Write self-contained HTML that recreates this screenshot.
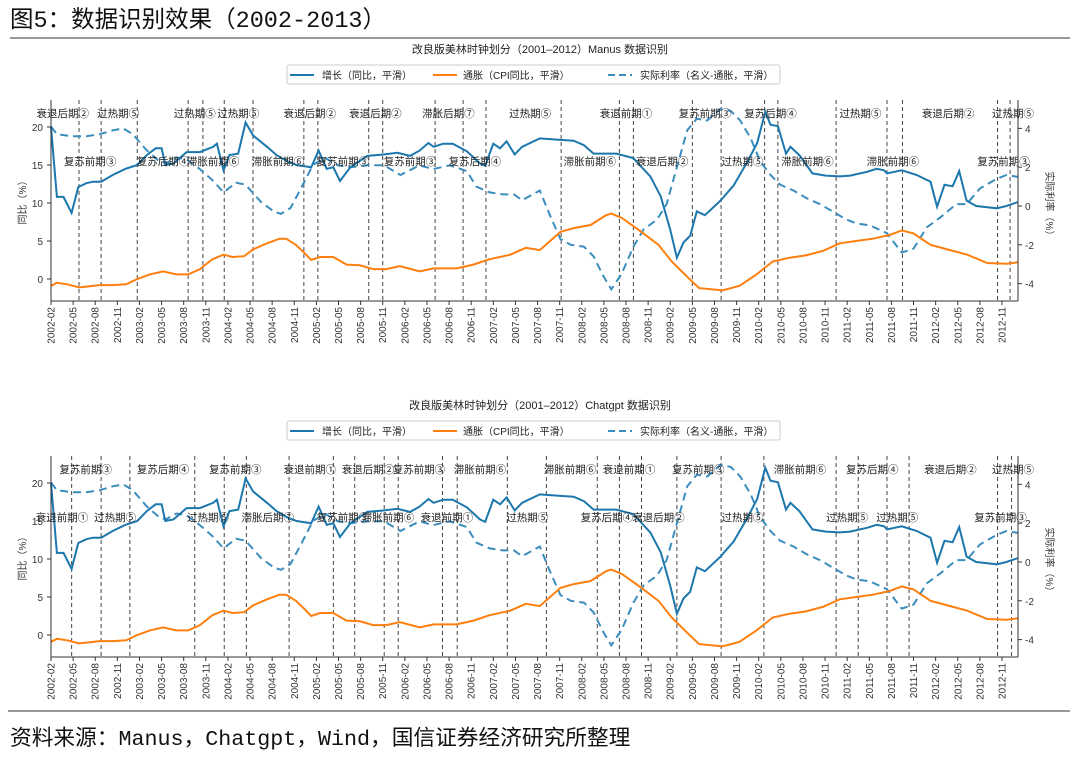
<!DOCTYPE html>
<html><head><meta charset="utf-8"><style>
body{margin:0;background:#fff;}
svg{display:block;font-family:"Liberation Sans","Noto Sans CJK SC",sans-serif;}
</style></head><body>
<svg id="root" width="1080" height="757" viewBox="0 0 1080 757">
<text x="10" y="27" font-size="23.5" fill="#111" font-family="'Liberation Mono','Noto Sans CJK SC',monospace">图5：数据识别效果（2002-2013）</text>
<line x1="10" y1="38" x2="1070" y2="38" stroke="#777" stroke-width="1.5"/>
<line x1="8" y1="711" x2="1070" y2="711" stroke="#777" stroke-width="1.5"/>
<text x="10" y="745" font-size="21.7" fill="#111" font-family="'Liberation Mono','Noto Sans CJK SC',monospace">资料来源：Manus，Chatgpt，Wind，国信证券经济研究所整理</text>
</svg>
<script>
// months indexed from 2002-02 (=0)
const growthM=[0,0.8,1.7,2.8,3.7,4.8,5.7,6.8,8.4,10.1,11.7,13,14.2,15,15.5,16.6,18.4,20.2,22,22.5,23.4,24.2,25.4,26.4,27.4,29.3,30.6,32.2,33.3,35.3,36.3,37.4,38.3,39.2,40.6,42.9,45.2,47,48.7,50,51.2,51.9,53.2,54.5,56.4,58.2,58.9,60,60.9,61.8,62.9,63.9,66.3,69.1,70.9,72.3,73.6,76.7,79,81.3,82.7,84,84.9,85.8,86.7,87.6,88.7,90.8,92.6,94.4,95.8,96.9,97.6,98.6,99.7,100.3,101.5,103.3,105.1,107,108.4,110.7,112,113,113.4,115.4,117.4,119.3,120.2,121.2,122.3,123.2,124.2,125.5,126.4,128.3,129.6,131.1];
const growthV=[20,10.8,10.8,8.7,12.1,12.6,12.8,12.8,13.7,14.5,15,16.3,17.2,17.2,15,15.2,16.7,16.7,17.4,17.8,14.3,16.3,16.5,20.6,18.9,17.4,16.3,15.4,15,14.7,16.9,14.5,14.7,12.9,14.7,16.2,16.4,16.6,16.2,16.9,17.9,17.4,17.8,17.8,16.8,15.2,14.9,17.8,17.2,18.1,16.4,17.4,18.5,18.3,18.2,17.6,16.5,16.5,15.9,13.5,10.9,6.5,2.8,4.8,5.7,8.9,8.4,10.3,12.3,15.3,17.9,22,20.3,20.1,16.5,17.4,16.3,13.9,13.6,13.5,13.6,14.1,14.5,14.3,13.9,14.3,13.7,12.8,9.5,12.4,12.2,14.2,10.3,9.6,9.5,9.3,9.6,10.1];
const cpiM=[0,0.8,2.2,3.8,4.8,6.6,8.4,10.2,11.7,13.4,15.2,17,18.6,20.2,21.9,23.4,24.6,26.2,27.4,29.3,31,31.9,33.2,34.3,35.3,36.5,38.3,40.1,41.9,43.7,45.5,47.3,50,51.9,55,57.3,59.5,62.3,64.4,66.3,69.1,70.9,73.2,75.3,76,77.5,80.1,82.4,84.2,86.5,87.9,91.1,93.4,95.7,97.9,100.2,102.4,104.7,107,109.2,111.5,113.8,115.4,117,119.3,121.6,124.3,127,129.7,131.1];
const cpiV=[-0.9,-0.5,-0.7,-1.1,-1,-0.8,-0.8,-0.7,0,0.6,1,0.6,0.6,1.3,2.6,3.2,2.9,3,3.9,4.7,5.3,5.3,4.5,3.5,2.5,2.9,2.9,1.9,1.8,1.3,1.3,1.7,1,1.4,1.4,1.9,2.6,3.2,4.1,3.8,6.2,6.7,7.1,8.4,8.6,8,6.2,4.5,2.3,0.1,-1.2,-1.5,-0.9,0.6,2.3,2.8,3.1,3.7,4.7,5,5.3,5.8,6.4,6,4.5,3.9,3.2,2.1,2,2.2];
const rateM=[0,0.8,2.8,4.8,6.6,8.4,9.8,11.1,12.9,14.7,15.6,17,18.4,20.2,22,23.4,25.1,26.4,28.5,30.3,31.2,32.5,33.9,35.5,37.1,38.9,40.7,42.9,45.2,47.4,50,51.8,54.1,56.4,57.7,59.5,61.3,62.8,63.9,66.3,67.6,69.1,70.5,72.3,73.6,74.9,76,77.4,79,80.4,82.2,83.5,84.9,86.3,87.6,89,90.8,92.2,93.5,94.9,96.2,97.6,98.9,100.7,102.5,104.3,106.1,107.9,109.3,111.1,113.4,115.4,117,118.8,120.6,122.8,124.2,126,128.3,129.6,131.1];
const rateV=[4.1,3.7,3.6,3.6,3.7,3.9,4,3.7,2.9,2.3,2.2,2.5,2.4,1.9,1.3,0.7,1.2,1.1,0.2,-0.3,-0.4,-0.1,0.9,2.1,2.5,2.1,2,2.1,2.1,1.6,2.1,1.9,2.1,1.8,1,0.7,0.6,0.6,0.3,0.8,-0.4,-1.7,-2,-2.1,-2.6,-3.6,-4.3,-3.5,-2.1,-1.2,-0.7,0.1,2,3.9,4.5,4.4,5,4.9,4.4,3.5,2.3,1.6,1.1,0.8,0.4,0.1,-0.3,-0.7,-0.9,-1,-1.4,-2.4,-2.2,-1.1,-0.6,0.1,0.1,0.9,1.4,1.6,1.5];
const tickLabels=[];for(let m=0;m<=129;m+=3){const y=2002+Math.floor((1+m)/12),mo=((1+m)%12)+1;tickLabels.push({m:m,t:y+'-'+String(mo).padStart(2,'0')});}
const leftTicks=[0,5,10,15,20];
const rightTicks=[-4,-2,0,2,4];
const topLines=[3.8,6.8,11.7,18.6,20.6,23.5,27.4,34.3,36.2,43.1,45,52.1,55.9,59,69.2,77.1,79,87,90.9,96.8,98.6,106.5,113.4,115.5,128.4,130.1];
const topRow1=[[1.6,'衰退后期②'],[9.1,'过热期⑤'],[19.5,'过热期⑤'],[25.4,'过热期⑤'],[35.1,'衰退后期②'],[44,'衰退后期②'],[53.9,'滞胀后期⑦'],[65,'过热期⑤'],[78,'衰退前期①'],[88.7,'复苏前期③'],[97.6,'复苏后期④'],[109.8,'过热期⑤'],[121.7,'衰退后期②'],[130.5,'过热期⑤']];
const topRow2=[[5.3,'复苏前期③'],[15.2,'复苏后期④'],[22,'滞胀前期⑥'],[30.8,'滞胀前期⑥'],[39.6,'复苏前期③'],[48.7,'复苏前期③'],[57.5,'复苏后期④'],[73.1,'滞胀前期⑥'],[82.9,'衰退后期②'],[93.8,'过热期⑤'],[102.6,'滞胀前期⑥'],[114.2,'滞胀前期⑥'],[129.2,'复苏前期③']];
const botLines=[2.8,6.8,10.7,19.5,23.5,26.5,32.3,38.3,41.2,45.2,47.1,53.1,55.1,61.9,67.2,74.1,77.1,80.1,84.9,90.9,96.7,106.5,109.5,113.4,116.4,128.4,130.3];
const botRow1=[[4.7,'复苏前期③'],[15.2,'复苏后期④'],[25,'复苏前期③'],[35.1,'衰退前期①'],[43,'衰退后期②'],[49.9,'复苏前期③'],[58.2,'滞胀前期⑥'],[70.4,'滞胀前期⑥'],[78.4,'衰退前期①'],[87.8,'复苏前期③'],[101.6,'滞胀前期⑥'],[111.4,'复苏后期④'],[122,'衰退后期②'],[130.5,'过热期⑤']];
const botRow2=[[1.5,'衰退前期①'],[8.7,'过热期⑤'],[21.3,'过热期⑤'],[29.4,'滞胀后期⑦'],[39.6,'复苏前期③'],[45.7,'滞胀前期⑥'],[53.7,'衰退前期①'],[64.6,'过热期⑤'],[75.4,'复苏后期④'],[82.4,'衰退后期②'],[93.8,'过热期⑤'],[108,'过热期⑤'],[114.8,'过热期⑤'],[128.8,'复苏前期③']];

const NS='http://www.w3.org/2000/svg';
const root=document.getElementById('root');
function el(tag,attrs,parent,text){const e=document.createElementNS(NS,tag);for(const k in attrs)e.setAttribute(k,attrs[k]);if(text!==undefined)e.textContent=text;(parent||root).appendChild(e);return e;}
const BLUE='#1b77ad',ORANGE='#ff7f0e',DASH='#3b8dbd';

function drawChart(off,title,vlines,row1,row2,name){
  const g=el('g',{},root);
  
  
  const X=m=>51+7.372*m;
  const YL=v=>279+off-7.6*v;
  const YR=v=>206+off-19.4*v;
  const top=100+off,bot=301+off,L=51,R=1018;
  const t=el('text',{x:540,y:53+off,'font-size':11,'text-anchor':'middle',fill:'#222'},g,title);
  
  
  const lg=el('g',{},g);
  
  
  el('rect',{x:287,y:65+off,width:493,height:19,rx:2,fill:'#fff',stroke:'#ccc'},lg);
  const ents=[[290,322,'增长（同比，平滑）',BLUE,''],[433,463,'通胀（CPI同比，平滑）',ORANGE,''],[608,640,'实际利率（名义-通胀，平滑）',DASH,'7,4']];
  ents.forEach(e=>{const eg=el('g',{},lg);
    
    
    el('line',{x1:e[0],x2:e[0]+24,y1:75+off,y2:75+off,stroke:e[3],'stroke-width':2,'stroke-dasharray':e[4]},eg);
    el('text',{x:e[1],y:79+off,'font-size':10,fill:'#222'},eg,e[2]);});
  vlines.forEach(m=>{const l=el('line',{x1:X(m),x2:X(m),y1:top,y2:bot,stroke:'#444','stroke-width':1,'stroke-dasharray':'4,3'},g);
    
    });
  function path(ms,vs,f){return ms.map((m,i)=>(i?'L':'M')+X(m).toFixed(1)+','+f(vs[i]).toFixed(1)).join('');}
  const p3=el('path',{d:path(rateM,rateV,YR),fill:'none',stroke:DASH,'stroke-width':2,'stroke-dasharray':'8,5'},g);
  
  
  const p2=el('path',{d:path(cpiM,cpiV,YL),fill:'none',stroke:ORANGE,'stroke-width':2},g);
  
  
  const p1=el('path',{d:path(growthM,growthV,YL),fill:'none',stroke:BLUE,'stroke-width':2},g);
  
  
  [[row1,113],[row2,161]].forEach(([row,y])=>row.forEach(r=>{
    const tx=el('text',{x:X(r[0]),y:y+off+4,'font-size':10.5,'text-anchor':'middle',fill:'#222'},g,r[1]);
    
    }));
  el('line',{x1:L,x2:L,y1:top,y2:bot,stroke:'#333'},g);
  el('line',{x1:R,x2:R,y1:top,y2:bot,stroke:'#333'},g);
  el('line',{x1:L,x2:R,y1:bot,y2:bot,stroke:'#333'},g);
  leftTicks.forEach(v=>{el('line',{x1:L-4,x2:L,y1:YL(v),y2:YL(v),stroke:'#333'},g);
    const tx=el('text',{x:L-8,y:YL(v)+4,'font-size':10,'text-anchor':'end',fill:'#333'},g,v);
    
    });
  rightTicks.forEach(v=>{el('line',{x1:R,x2:R+4,y1:YR(v),y2:YR(v),stroke:'#333'},g);
    const tx=el('text',{x:R+7,y:YR(v)+4,'font-size':10,fill:'#333'},g,v);
    
    });
  tickLabels.forEach(tk=>{const x=X(tk.m);el('line',{x1:x,x2:x,y1:bot,y2:bot+4,stroke:'#333'},g);
    const tx=el('text',{x:0,y:0,'font-size':10,'text-anchor':'end',fill:'#333',transform:`translate(${x+3.5},${bot+6}) rotate(-90)`},g,tk.t);
    
    });
  const ya=el('text',{x:0,y:0,'font-size':10,'text-anchor':'middle',fill:'#333',transform:`translate(26,${200+off}) rotate(-90)`},g,'同比（%）');
  
  
  const yb=el('text',{x:0,y:0,'font-size':10,'text-anchor':'middle',fill:'#333',transform:`translate(1046,${206+off}) rotate(90)`},g,'实际利率（%）');
  
  
}
drawChart(0,'改良版美林时钟划分（2001–2012）Manus 数据识别',topLines,topRow1,topRow2,'manus-chart');
drawChart(356,'改良版美林时钟划分（2001–2012）Chatgpt 数据识别',botLines,botRow1,botRow2,'chatgpt-chart');
</script>
</body></html>
